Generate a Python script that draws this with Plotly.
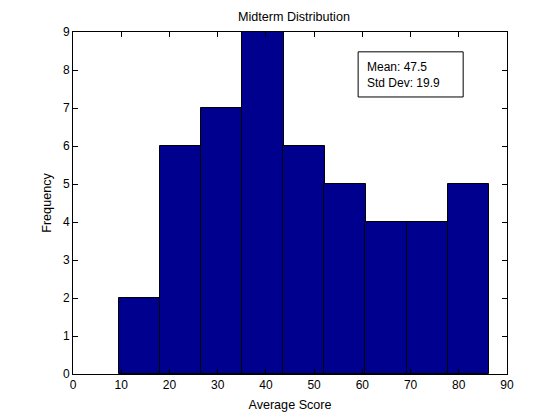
import plotly.graph_objects as go

# histogram bins
bin_centers = [13.8, 22.3, 30.9, 39.4, 47.9, 56.4, 64.9, 73.5, 82.0]
counts = [2, 6, 7, 9, 6, 5, 4, 4, 5]
bin_width = 8.52

x_ticks = [0, 10, 20, 30, 40, 50, 60, 70, 80, 90]
y_ticks = [0, 1, 2, 3, 4, 5, 6, 7, 8, 9]

mean_val = 47.5
std_val = 19.9

family = "Liberation Sans, Arial, sans-serif"
tick_fnt = dict(family=family, size=12, color="black")
lab_fnt = dict(family=family, size=12.6, color="black")

fig = go.Figure()
fig.add_trace(go.Bar(
    x=bin_centers,
    y=counts,
    width=[bin_width] * len(counts),
    marker=dict(color="rgb(0,0,143)", line=dict(color="black", width=1)),
    hoverinfo="x+y"
))

# stats box
fig.add_shape(type="rect", xref="paper", yref="paper",
              x0=0.657, x1=0.899, y0=0.81, y1=0.942,
              line=dict(color="black", width=1), fillcolor="white")
fig.add_annotation(xref="paper", yref="paper", x=0.673, y=0.925,
                   xanchor="left", yanchor="top", align="left",
                   showarrow=False,
                   text="Mean: %.1f<br>Std Dev: %.1f" % (mean_val, std_val),
                   font=dict(family=family, size=12, color="black"))

axis_style = dict(
    showgrid=False, zeroline=False, showline=True, linecolor="black",
    linewidth=1, mirror="ticks", ticks="inside", ticklen=5,
    tickcolor="black", tickfont=tick_fnt
)

# page body has an 8px margin, so the figure is drawn a bit smaller
fig.update_layout(
    width=552, height=412,
    margin=dict(l=65, r=53, t=24, b=46),
    paper_bgcolor="white", plot_bgcolor="white",
    title=dict(text="Midterm Distribution", x=0.518, xanchor="center",
               y=1 - 9 / 412, yanchor="middle", font=lab_fnt),
    showlegend=False,
    bargap=0,
    xaxis=dict(range=[0, 90], tickvals=x_ticks,
               title=dict(text="Average Score", font=lab_fnt, standoff=8),
               **axis_style),
    yaxis=dict(range=[0, 9], tickvals=y_ticks,
               title=dict(text="Frequency", font=lab_fnt, standoff=8),
               **axis_style),
)

fig.write_html("out.html")
